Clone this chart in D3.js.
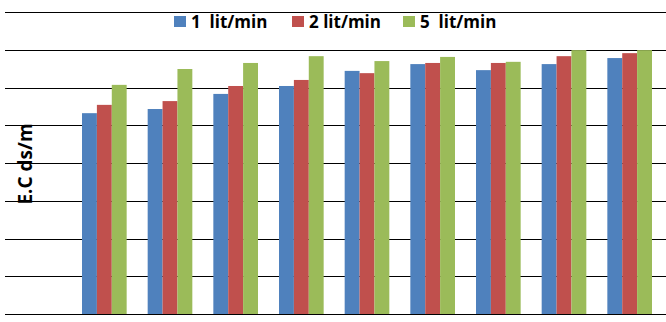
<!DOCTYPE html>
<html>
<head>
<meta charset="utf-8">
<script src="https://cdn.jsdelivr.net/npm/d3@7"></script>
<style>
  body { margin: 0; background: #fff; }
  svg { display: block; }
  text { font-family: "Open Sans", "Liberation Sans", sans-serif; font-weight: bold; fill: #000; }
</style>
</head>
<body>
<div id="chart"></div>
<script>
var categories = ["1", "2", "3", "4", "5", "6", "7", "8", "9"];
var seriesNames = ["1  lit/min", "2 lit/min", "5  lit/min"];
var flow1 = [5.32, 5.43, 5.83, 6.04, 6.44, 6.62, 6.46, 6.62, 6.78];
var flow2 = [5.54, 5.64, 6.04, 6.20, 6.38, 6.65, 6.65, 6.83, 6.91];
var flow5 = [6.07, 6.49, 6.65, 6.83, 6.70, 6.81, 6.68, 6.99, 6.99];
var yTicks = [0, 1, 2, 3, 4, 5, 6, 7, 8];
var colors = ["#4F81BD", "#C0504D", "#9BBB59"];

var width = 666, height = 322;

var svg = d3.select("#chart").append("svg")
    .attr("width", width)
    .attr("height", height);

var x0 = d3.scaleBand()
    .domain(categories)
    .range([71.5, 662.5])
    .paddingInner(0.32)
    .paddingOuter(0.16);

var x1 = d3.scaleBand()
    .domain(seriesNames)
    .range([0, x0.bandwidth()]);

var y = d3.scaleLinear()
    .domain([0, 8])
    .range([314, 12]);

// gridlines
svg.append("g")
    .attr("class", "grid")
    .selectAll("line")
    .data(yTicks)
    .enter().append("line")
    .attr("x1", 5)
    .attr("x2", width)
    .attr("y1", function(d) { return Math.round(y(d)) + 0.5; })
    .attr("y2", function(d) { return Math.round(y(d)) + 0.5; })
    .attr("stroke", "#000")
    .attr("stroke-width", 1);

var data = categories.map(function(c, i) {
    return { cat: c, values: [flow1[i], flow2[i], flow5[i]] };
});

var groups = svg.selectAll(".group")
    .data(data)
    .enter().append("g")
    .attr("class", "group")
    .attr("transform", function(d) { return "translate(" + x0(d.cat) + ",0)"; });

groups.selectAll("rect")
    .data(function(d) {
        return d.values.map(function(v, j) { return { name: seriesNames[j], value: v, k: j }; });
    })
    .enter().append("rect")
    .attr("x", function(d) { return x1(d.name); })
    .attr("width", x1.bandwidth())
    .attr("y", function(d) { return y(d.value); })
    .attr("height", function(d) { return y(0) - y(d.value); })
    .attr("fill", function(d) { return colors[d.k]; });

// y axis title
svg.append("text")
    .attr("transform", "translate(32,164) rotate(-90)")
    .attr("text-anchor", "middle")
    .style("font-size", "19px")
    .text("E.C ds/m");

// legend
var legendX = [174, 292, 403];
var legend = svg.selectAll(".legend-item")
    .data(seriesNames)
    .enter().append("g")
    .attr("class", "legend-item")
    .attr("transform", function(d, i) { return "translate(" + legendX[i] + ",16)"; });

legend.append("rect")
    .attr("width", 12)
    .attr("height", 11)
    .attr("fill", function(d, i) { return colors[i]; });

legend.append("text")
    .attr("x", 17)
    .attr("y", 12)
    .style("font-size", "17px")
    .style("white-space", "pre")
    .text(function(d) { return d; });
</script>
</body>
</html>
